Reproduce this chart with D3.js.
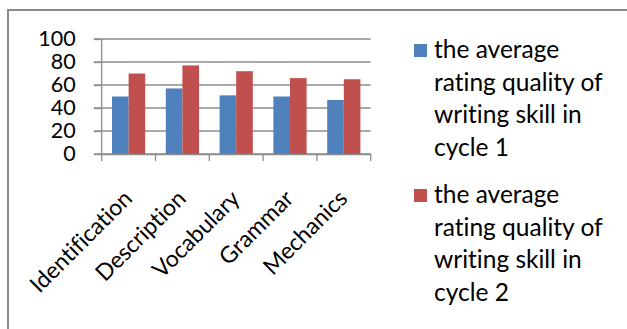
<!DOCTYPE html>
<html><head><meta charset="utf-8">
<script src="https://cdn.jsdelivr.net/npm/d3@7"></script>
<style>body{margin:0;background:#fff}svg{display:block}text{font-variant-ligatures:none;font-feature-settings:"liga" 0,"clig" 0}</style>
</head><body>
<script>
const categories = ["Identification","Description","Vocabulary","Grammar","Mechanics"];
const cycle1 = [50,57,51,50,47];
const cycle2 = [70,77,72,66,65];
const seriesNames = ["the average rating quality of writing skill in cycle 1","the average rating quality of writing skill in cycle 2"];
const legendLines = [["the average","rating quality of","writing skill in","cycle 1"],["the average","rating quality of","writing skill in","cycle 2"]];
const yTicks = [0,20,40,60,80,100];
const colors = ["#4F81BD","#C0504D"];

const W=627,H=329;
const svg=d3.select("body").append("svg").attr("width",W).attr("height",H);
const font="Lato, 'Open Sans', sans-serif";
// outer border
svg.append("path").attr("d",`M8,${H+2}V10H${W+2}`).attr("fill","none").attr("stroke","#8a8a8a").attr("stroke-width",2);

const x0=d3.scaleBand().domain(categories).range([101.7,370.7]).paddingInner(0).paddingOuter(0);
const x1=d3.scaleBand().domain([0,1]).range([0,x0.bandwidth()]).paddingOuter(0.62);
const y=d3.scaleLinear().domain([0,100]).range([154,39]);

// gridlines
svg.append("g").selectAll("line").data(yTicks).join("line")
  .attr("x1",94).attr("x2",370.7).attr("y1",d=>y(d)).attr("y2",d=>y(d))
  .attr("stroke","#8c8c8c").attr("stroke-width",1.3);

const data=categories.map((c,i)=>({c,v:[cycle1[i],cycle2[i]]}));
const g=svg.append("g");
g.selectAll("g").data(data).join("g").attr("transform",d=>`translate(${x0(d.c)},0)`)
  .selectAll("rect").data(d=>d.v.map((v,k)=>({v,k}))).join("rect")
  .attr("x",d=>x1(d.k)).attr("width",x1.bandwidth())
  .attr("y",d=>y(d.v)).attr("height",d=>y(0)-y(d.v))
  .attr("fill",d=>colors[d.k]);

// y axis
const ya=svg.append("g").attr("transform","translate(101.7,0)")
  .call(d3.axisLeft(y).tickValues(yTicks).tickSize(8).tickPadding(18));
ya.select(".domain").attr("stroke","#8c8c8c").attr("stroke-width",1.3).attr("d","M0,39V154");
ya.selectAll(".tick line").attr("stroke","#8c8c8c").attr("stroke-width",1.3);
ya.selectAll("text").attr("font-family",font).attr("font-size",21.5).attr("fill","#000");

// x axis
const xa=svg.append("g").attr("transform","translate(0,154)")
  .call(d3.axisBottom(x0).tickSize(0).tickFormat(""));
xa.select(".domain").attr("stroke","#8c8c8c").attr("stroke-width",1.3);
const bounds=[x0.range()[0],...categories.map(c=>x0(c)+x0.bandwidth())];
xa.selectAll("line.b").data(bounds).join("line").attr("class","b")
  .attr("x1",d=>d).attr("x2",d=>d).attr("y1",0).attr("y2",7)
  .attr("stroke","#8c8c8c").attr("stroke-width",1.3);
svg.append("g").selectAll("text").data(categories).join("text")
  .attr("transform",d=>`translate(${x0(d)+x0.bandwidth()/2+5},${200}) rotate(-45)`)
  .attr("text-anchor","end").attr("font-family",font).attr("font-size",23).attr("fill","#000")
  .text(d=>d);

// legend
const lg=svg.append("g");
const legY=[44,189];
legendLines.forEach((lines,i)=>{
  lg.append("rect").attr("x",414).attr("y",legY[i]).attr("width",13).attr("height",13).attr("fill",colors[i]);
  const t=lg.append("text").attr("font-family",font).attr("font-size",24.5).attr("fill","#000");
  lines.forEach((l,j)=>t.append("tspan").attr("x",434).attr("y",legY[i]+14+j*32.7).text(l));
});
</script>
</body></html>
